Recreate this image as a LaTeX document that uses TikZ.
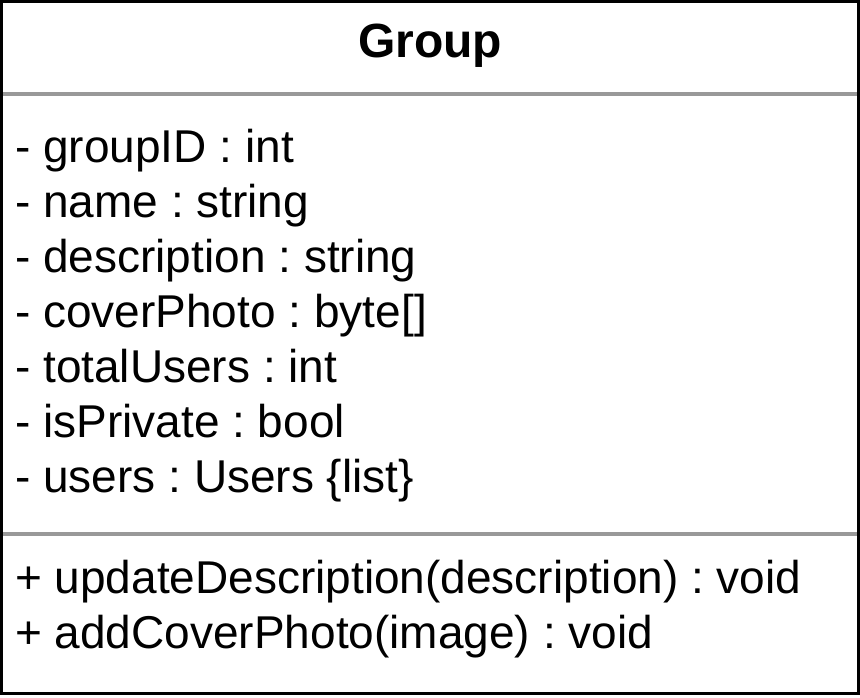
\documentclass[tikz,border=0pt]{standalone}
\usepackage{fontspec}
\setmainfont{Liberation Sans}
\frenchspacing
\begin{document}
\begin{tikzpicture}[x=1pt,y=-1pt,
  member/.style={anchor=base west,inner sep=0pt,font=\fontsize{46}{55}\selectfont},
  title/.style={anchor=base,inner sep=0pt,font=\fontsize{48}{55}\selectfont\bfseries},
  frame/.style={draw=black,line width=3pt},
  divider/.style={draw=black!40,line width=4pt}]
\useasboundingbox (0,0) rectangle (860,697);
% class box
\draw[frame] (1.5,1.5) rectangle (858.5,693.5);
\coordinate (d1w) at (3,94);   \coordinate (d1e) at (857,94);
\coordinate (d2w) at (3,533.5); \coordinate (d2e) at (857,533.5);
\draw[divider] (d1w) -- (d1e);
\draw[divider] (d2w) -- (d2e);
% class name
\node[title] (name) at (430,57) {Group};
% attributes
\node[member] (a1) at (15,162) {- groupID : int};
\node[member] (a2) at (15,217) {- name : string};
\node[member] (a3) at (15,272) {- description : string};
\node[member] (a4) at (15,327) {- coverPhoto : byte[]};
\node[member] (a5) at (15,382) {- totalUsers : int};
\node[member] (a6) at (15,437) {- isPrivate : bool};
\node[member] (a7) at (15,492) {- users : Users \{list\}};
% operations
\node[member] (m1) at (15,593) {+ updateDescription(description) : void};
\node[member] (m2) at (15,648) {+ addCoverPhoto(image) : void};
\end{tikzpicture}
\end{document}
